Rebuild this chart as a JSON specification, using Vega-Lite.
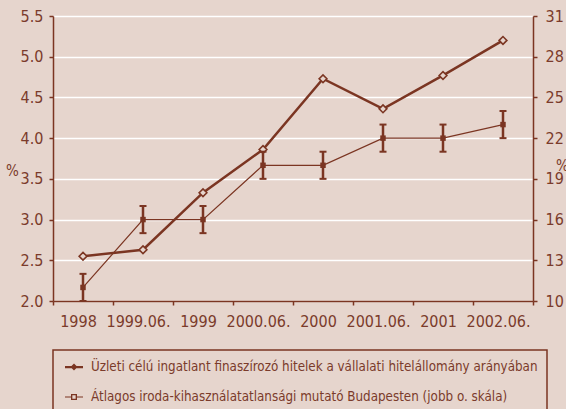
{
  "$schema": "https://vega.github.io/schema/vega-lite/v6.json",
  "width": 480,
  "height": 285,
  "autosize": {"type": "none"},
  "padding": {"left": 53, "top": 16, "right": 33, "bottom": 108},
  "background": "#e6d5cd",
  "config": {
    "view": {"stroke": null},
    "font": "DejaVu Sans Condensed, Roboto, sans-serif",
    "legend": {"strokeWidth": 1.5},
    "axis": {
      "domainColor": "#7b3522",
      "domainWidth": 1.5,
      "tickColor": "#7b3522",
      "tickWidth": 1.5,
      "tickSize": 4,
      "labelColor": "#7b3b2b",
      "labelFont": "DejaVu Sans Condensed, Roboto, sans-serif",
      "labelFontSize": 16,
      "titleFont": "DejaVu Sans Condensed, Roboto, sans-serif",
      "titleColor": "#7b3b2b",
      "titleFontWeight": "normal",
      "titleFontSize": 15,
      "gridColor": "#ffffff",
      "gridWidth": 1.5,
      "gridOpacity": 1
    }
  },
  "data": {
    "values": [
      {"period": "1998", "loan": 2.55, "vac": 11, "lo": 10, "hi": 12},
      {"period": "1999.06.", "loan": 2.63, "vac": 16, "lo": 15, "hi": 17},
      {"period": "1999", "loan": 3.33, "vac": 16, "lo": 15, "hi": 17},
      {"period": "2000.06.", "loan": 3.86, "vac": 20, "lo": 19, "hi": 21},
      {"period": "2000", "loan": 4.73, "vac": 20, "lo": 19, "hi": 21},
      {"period": "2001.06.", "loan": 4.36, "vac": 22, "lo": 21, "hi": 23},
      {"period": "2001", "loan": 4.77, "vac": 22, "lo": 21, "hi": 23},
      {"period": "2002.06.", "loan": 5.2, "vac": 23, "lo": 22, "hi": 24}
    ]
  },
  "layer": [
    {
      "layer": [
        {
          "mark": {"type": "line", "color": "#7b3522", "strokeWidth": 2.5},
          "encoding": {
            "x": {"field": "period", "type": "nominal", "scale": {"domain": ["1998", "1999.06.", "1999", "2000.06.", "2000", "2001.06.", "2001", "2002.06."], "paddingInner": 0, "paddingOuter": 0},
              "axis": {"title": null, "labelAngle": 0, "labelOffset": -5, "labelPadding": 8, "tickBand": "extent", "grid": false}},
            "y": {"field": "loan", "type": "quantitative", "scale": {"domain": [2, 5.5], "nice": false, "zero": false},
              "axis": {"values": [2, 2.5, 3, 3.5, 4, 4.5, 5, 5.5], "format": ".1f", "grid": true, "labelPadding": 6, "title": "%", "titleAngle": 0, "titleX": -41, "titleY": 154, "titleAlign": "center", "titleBaseline": "middle"}}
          }
        },
        {
          "mark": {"type": "point", "shape": "diamond", "size": 60, "stroke": "#7b3522", "strokeWidth": 1.6, "fill": "#e6d5cd", "filled": false, "opacity": 1},
          "encoding": {
            "x": {"field": "period", "type": "nominal"},
            "y": {"field": "loan", "type": "quantitative"}
          }
        }
      ]
    },
    {
      "layer": [
        {
          "mark": {"type": "line", "color": "#7b3522", "strokeWidth": 1.2},
          "encoding": {
            "x": {"field": "period", "type": "nominal"},
            "y": {"field": "vac", "type": "quantitative", "scale": {"domain": [10, 31], "nice": false, "zero": false},
              "axis": {"orient": "right", "values": [10, 13, 16, 19, 22, 25, 28, 31], "grid": false, "labelPadding": 8, "title": "%", "titleAngle": 0, "titleX": 29, "titleY": 149, "titleAlign": "center", "titleBaseline": "middle"}}
          }
        },
        {
          "mark": {"type": "rule", "color": "#7b3522", "strokeWidth": 2.5},
          "encoding": {
            "x": {"field": "period", "type": "nominal"},
            "y": {"field": "lo", "type": "quantitative"},
            "y2": {"field": "hi"}
          }
        },
        {
          "mark": {"type": "tick", "orient": "horizontal", "size": 7, "thickness": 2, "color": "#7b3522", "opacity": 1},
          "encoding": {
            "x": {"field": "period", "type": "nominal"},
            "y": {"field": "lo", "type": "quantitative"}
          }
        },
        {
          "mark": {"type": "tick", "orient": "horizontal", "size": 7, "thickness": 2, "color": "#7b3522", "opacity": 1},
          "encoding": {
            "x": {"field": "period", "type": "nominal"},
            "y": {"field": "hi", "type": "quantitative"}
          }
        },
        {
          "mark": {"type": "point", "shape": "square", "size": 30, "filled": true, "color": "#7b3522", "opacity": 1},
          "encoding": {
            "x": {"field": "period", "type": "nominal"},
            "y": {"field": "vac", "type": "quantitative"}
          }
        }
      ]
    },
    {
      "data": {"values": [
        {"series": "Üzleti célú ingatlant finaszírozó hitelek a vállalati hitelállomány arányában"},
        {"series": "Átlagos iroda-kihasználatatlansági mutató Budapesten  (jobb o. skála)"}
      ]},
      "mark": {"type": "point", "opacity": 0, "filled": true, "color": "#7b3522"},
      "encoding": {
        "shape": {
          "field": "series",
          "type": "nominal",
          "scale": {
            "domain": ["Üzleti célú ingatlant finaszírozó hitelek a vállalati hitelállomány arányában", "Átlagos iroda-kihasználatatlansági mutató Budapesten  (jobb o. skála)"],
            "range": [
              "M-1.2,-0.15H1.2V0.15H-1.2Z M0,-0.47L0.47,0L0,0.47L-0.47,0Z",
              "M-1.2,-0.08H-0.4V0.08H-1.2Z M0.4,-0.08H1.2V0.08H0.4Z M-0.4,-0.4H0.4V0.4H-0.4Z M-0.22,-0.22V0.22H0.22V-0.22Z"
            ]
          },
          "legend": {
            "title": null,
            "orient": "none",
            "legendX": 0,
            "legendY": 334,
            "direction": "vertical",
            "padding": 9.5,
            "strokeColor": "#7b3522",
            "rowPadding": 16,
            "symbolSize": 225,
            "symbolOffset": 4,
            "symbolOpacity": 1,
            "symbolFillColor": "#7b3522",
            "symbolStrokeWidth": 0,
            "labelOffset": 9.5,
            "labelFont": "DejaVu Sans Condensed, Roboto, sans-serif",
            "labelFontSize": 13.3,
            "labelColor": "#7b3b2b",
            "labelLimit": 700
          }
        }
      }
    }
  ],
  "resolve": {"scale": {"y": "independent", "shape": "independent"}}
}
